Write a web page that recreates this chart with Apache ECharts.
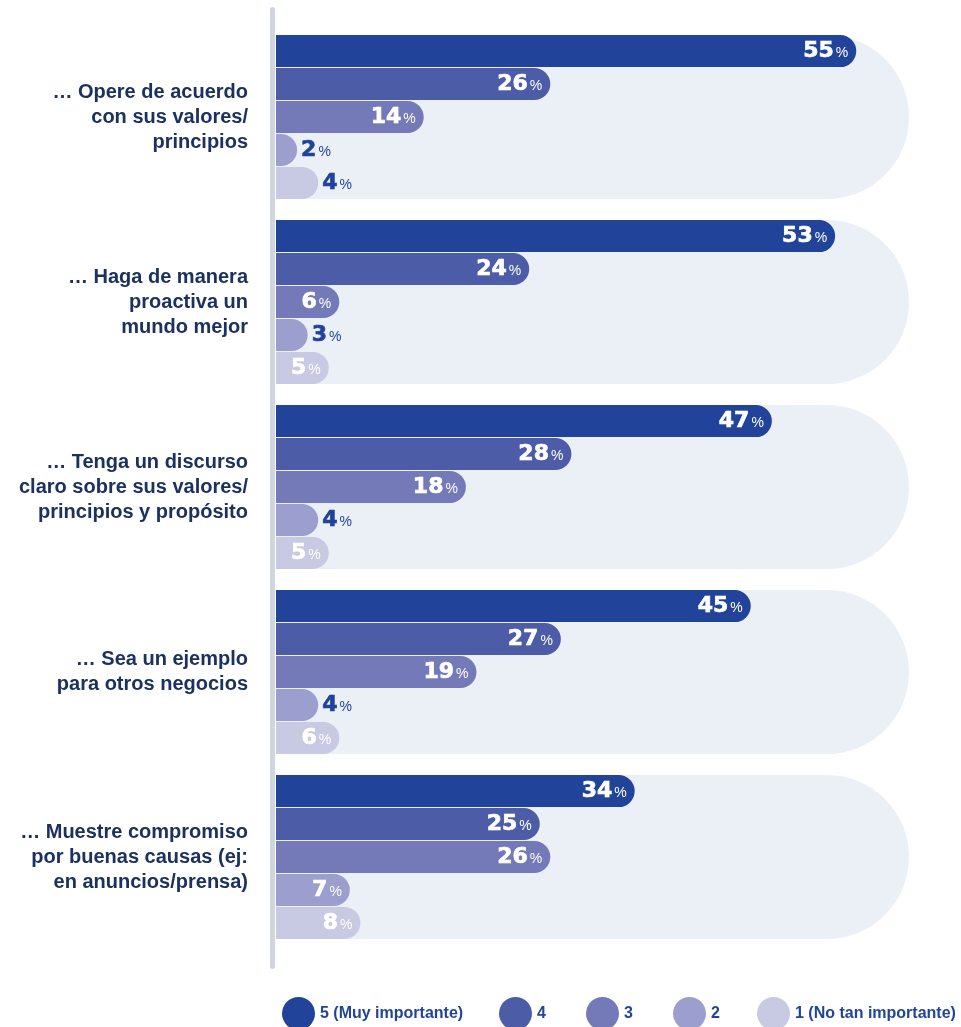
<!DOCTYPE html>
<html>
<head>
<meta charset="utf-8">
<script src="https://cdn.jsdelivr.net/npm/echarts@6/dist/echarts.min.js"></script>
<style>
  html, body { margin: 0; padding: 0; background: #ffffff; }
  #chart { width: 961px; height: 1027px; }
</style>
</head>
<body>
<div id="chart"></div>
<script>
// Statements, top to bottom
const categories = [
  '… Opere de acuerdo\ncon sus valores/\nprincipios',
  '… Haga de manera\nproactiva un\nmundo mejor',
  '… Tenga un discurso\nclaro sobre sus valores/\nprincipios y propósito',
  '… Sea un ejemplo\npara otros negocios',
  '… Muestre compromiso\npor buenas causas (ej:\nen anuncios/prensa)'
];

// Importance levels (legend order)
const levelNames = ['5 (Muy importante)', '4', '3', '2', '1 (No tan importante)'];
const levelColors = ['#21449a', '#4c5ca6', '#7479b7', '#9c9fcd', '#c8c9e3'];

// Share of respondents (%) per level, one value per statement
const level5 = [55, 53, 47, 45, 34];
const level4 = [26, 24, 28, 27, 25];
const level3 = [14, 6, 18, 19, 26];
const level2 = [2, 3, 4, 4, 7];
const level1 = [4, 5, 5, 6, 8];

// Extent of the value axis; the pale pill behind each group spans it
const axisMax = 60;
const panelValues = categories.map(() => axisMax);

const seriesValues = [level5, level4, level3, level2, level1];

// Left edge of each legend entry
const legendLefts = [282, 499, 586, 673, 757];

function valueLabel(v) {
  const inside = v >= 5;
  const c = inside ? '#ffffff' : '#21449a';
  return {
    show: true,
    position: inside ? 'insideRight' : 'right',
    distance: inside ? 8 : 4,
    formatter: '{n|{c}}{p|%}',
    rich: {
      n: {
        fontFamily: 'DejaVu Sans',
        fontWeight: 'bold',
        fontSize: 22,
        color: c,
        textBorderColor: c,
        textBorderWidth: 0.7
      },
      p: {
        fontFamily: 'Liberation Sans',
        fontSize: 14,
        color: c,
        padding: [4, 0, 0, 2]
      }
    }
  };
}

const chart = echarts.init(document.getElementById('chart'), null, { renderer: 'canvas' });

const series = [
  {
    name: 'panel',
    type: 'bar',
    yAxisIndex: 1,
    data: panelValues,
    barWidth: 164,
    silent: true,
    itemStyle: { color: '#ebf0f7', borderRadius: [0, 82, 82, 0] },
    label: { show: false },
    z: 1
  }
].concat(levelNames.map((name, i) => ({
  name: name,
  type: 'bar',
  yAxisIndex: 0,
  barWidth: 32,
  barGap: '3%',
  z: 3,
  itemStyle: { color: levelColors[i], borderRadius: [0, 16, 16, 0] },
  data: seriesValues[i].map(v => ({ value: v, label: valueLabel(v) }))
})));

const legends = levelNames.map((name, i) => ({
  data: [name],
  left: legendLefts[i],
  top: 997,
  icon: 'circle',
  itemWidth: 33,
  itemHeight: 33,
  selectedMode: false,
  padding: 0,
  textStyle: {
    fontFamily: 'Liberation Sans',
    fontWeight: 'bold',
    fontSize: 16,
    color: '#21449a'
  }
}));

chart.setOption({
  animation: false,
  grid: { left: 276, width: 633, top: 24.5, height: 925 },
  xAxis: {
    type: 'value',
    min: 0,
    max: axisMax,
    show: false
  },
  yAxis: [
    {
      type: 'category',
      data: categories,
      inverse: true,
      axisLine: { show: false },
      axisTick: { show: false },
      splitLine: { show: false },
      axisLabel: {
        margin: 28,
        align: 'right',
        fontFamily: 'Liberation Sans',
        fontWeight: 'bold',
        fontSize: 20,
        lineHeight: 25,
        color: '#1b3160'
      }
    },
    {
      type: 'category',
      data: categories,
      inverse: true,
      show: false
    }
  ],
  legend: legends,
  graphic: [
    {
      type: 'rect',
      left: 270,
      top: 7,
      shape: { width: 5, height: 962, r: 2.5 },
      style: { fill: '#d0d6df' },
      z: 10
    }
  ],
  series: series
});
</script>
</body>
</html>
